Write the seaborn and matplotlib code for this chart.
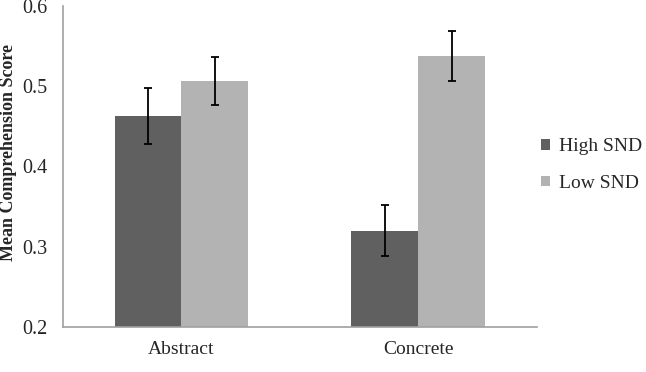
import matplotlib
matplotlib.use("Agg")
import matplotlib.pyplot as plt
import seaborn as sns
import pandas as pd
import numpy as np

categories = ["Abstract", "Concrete"]
groups = ["High SND", "Low SND"]
high_means = [0.463, 0.320]
low_means = [0.506, 0.538]
high_err = [0.035, 0.032]
low_err = [0.030, 0.031]
y_ticks = [0.2, 0.3, 0.4, 0.5, 0.6]

sns.set_theme(style="white")
plt.rcParams["font.family"] = ["Liberation Serif", "DejaVu Serif"]

df = pd.DataFrame({
    "category": categories * 2,
    "group": [groups[0]] * 2 + [groups[1]] * 2,
    "value": high_means + low_means,
    "err": high_err + low_err,
})

fig = plt.figure(figsize=(6.46, 3.72), dpi=100)
ax = fig.add_axes([0.0975, 0.121, 0.7335, 0.863])

palette = {"High SND": "#606060", "Low SND": "#b3b3b3"}
sns.barplot(data=df, x="category", y="value", hue="group", hue_order=groups,
            order=categories, palette=palette, width=0.565, errorbar=None,
            saturation=1, ax=ax, linewidth=0)

# error bars at bar centres
for patch_group, g in zip([ax.containers[0], ax.containers[1]], groups):
    sub = df[df["group"] == g].set_index("category").loc[categories]
    xs = [p.get_x() + p.get_width() / 2 for p in patch_group]
    ax.errorbar(xs, sub["value"].values, yerr=sub["err"].values, fmt="none",
                ecolor="black", elinewidth=1.3, capsize=3.2, capthick=1.3)

ax.set_ylim(0.2, 0.6)
ax.set_xlim(-0.5, 1.5)
ax.set_yticks(y_ticks)
ax.set_yticklabels([f"{t:.1f}" for t in y_ticks], fontsize=14.5)
ax.set_xticks([0, 1])
ax.set_xticklabels(categories, fontsize=14)
ax.set_xticks([-0.5, 0.5, 1.5], minor=True)
ax.tick_params(axis="x", which="major", length=0, pad=10)
ax.tick_params(axis="x", which="minor", length=5, width=1, color="#a0a0a0", direction="out")
ax.tick_params(axis="y", which="major", length=5, width=1, color="#a0a0a0", direction="out", pad=6)
ax.set_xlabel("")
ax.set_ylabel("Mean Comprehension Score", fontsize=13, fontweight="bold")
ax.yaxis.set_label_coords(-0.098, 0.545)

for s in ["top", "right"]:
    ax.spines[s].set_visible(False)
for s in ["left", "bottom"]:
    ax.spines[s].set_color("#a0a0a0")
    ax.spines[s].set_linewidth(1.2)

leg = ax.legend(loc="center left", bbox_to_anchor=(0.811, 0.556), bbox_transform=fig.transFigure,
                frameon=False, fontsize=14, handlelength=0.45, handleheight=0.45,
                handletextpad=0.45, labelspacing=1.0)

fig.savefig("out.png", dpi=100)
